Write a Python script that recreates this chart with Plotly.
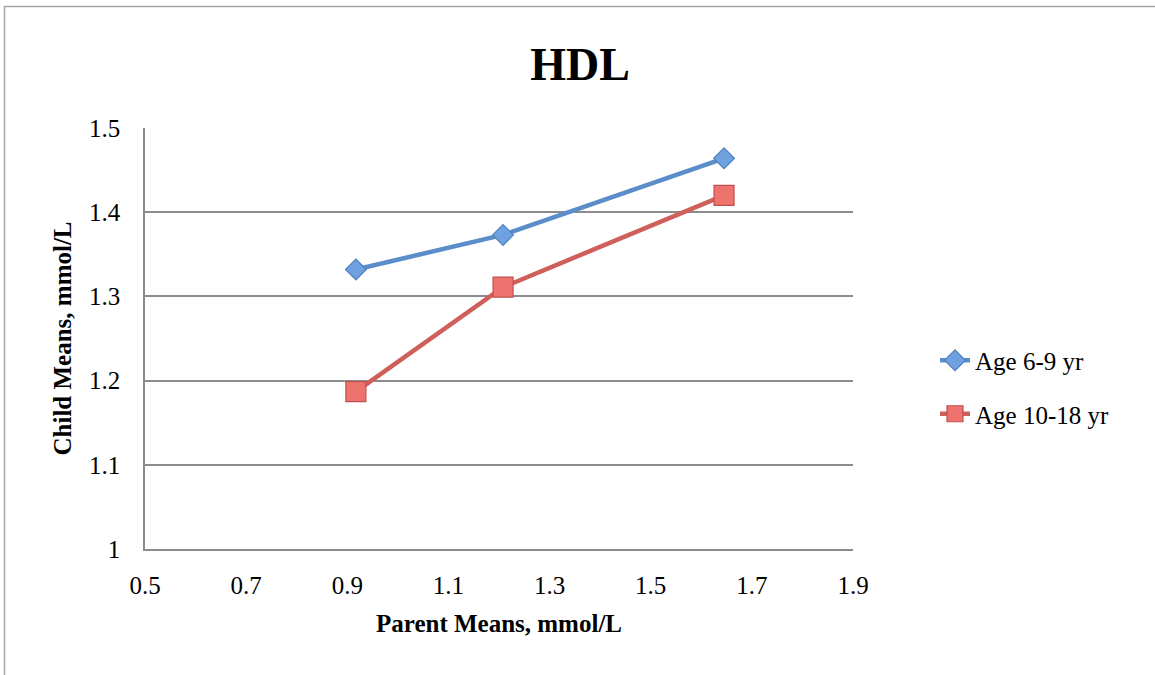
import plotly.graph_objects as go

parent_means = [0.917, 1.208, 1.645]
age_6_9 = [1.332, 1.373, 1.464]
age_10_18 = [1.187, 1.311, 1.420]
series_names = ["Age 6-9 yr", "Age 10-18 yr"]
x_ticks = [0.5, 0.7, 0.9, 1.1, 1.3, 1.5, 1.7, 1.9]
y_ticks = [1, 1.1, 1.2, 1.3, 1.4, 1.5]

FONT = "Liberation Serif"
W, H = 1155, 675
L, R, T, B = 145, 302, 128, 126

fig = go.Figure()
fig.add_trace(go.Scatter(
    x=parent_means, y=age_6_9, name=series_names[0], mode="lines+markers",
    legendgroup="a",
    line=dict(color="#5A8DCA", width=4.5),
    marker=dict(symbol="diamond", size=16, color="#6FA1E0",
                line=dict(color="#4F81BD", width=1.2)),
))
fig.add_trace(go.Scatter(
    x=parent_means, y=age_10_18, name=series_names[1], mode="lines+markers",
    legendgroup="b",
    line=dict(color="#CF5F5A", width=4.5),
    marker=dict(symbol="square", size=20, color="#EE736E",
                line=dict(color="#C0504D", width=1.2)),
))

pw = W - L - R
ph = H - T - B
fig.add_shape(type="rect", xref="paper", yref="paper",
              x0=(4.5 - L) / pw, x1=(W + 20 - L) / pw,
              y0=(H - B - (H + 20)) / ph, y1=(H - B - 6.5) / ph,
              line=dict(color="#A6A6A6", width=1.5), layer="below")

fig.update_layout(
    width=W, height=H,
    margin=dict(l=L, r=R, t=T, b=B),
    paper_bgcolor="white", plot_bgcolor="white",
    font=dict(family=FONT, size=25, color="black"),
    title=dict(text="<b>HDL</b>", x=580 / W, xref="container", xanchor="center",
               y=1 - 64 / H, yanchor="middle",
               font=dict(family=FONT, size=46, color="black")),
    xaxis=dict(range=[0.5, 1.9], tickvals=x_ticks, ticktext=[str(v) for v in x_ticks],
               showgrid=False, zeroline=False, showline=True, linecolor="#8C8C8C",
               linewidth=1.5, ticks="outside", ticklen=13, tickcolor="rgba(0,0,0,0)",
               tickfont=dict(family=FONT, size=25),
               title=dict(text="<b>Parent Means, mmol/L</b>", standoff=17,
                          font=dict(family=FONT, size=25))),
    yaxis=dict(range=[1, 1.5], tickvals=y_ticks, ticktext=[str(v) for v in y_ticks],
               showgrid=True, gridcolor="#8C8C8C", gridwidth=1.5, zeroline=False,
               showline=True, linecolor="#8C8C8C", linewidth=1.5,
               ticks="outside", ticklen=18, tickcolor="rgba(0,0,0,0)",
               tickfont=dict(family=FONT, size=25),
               title=dict(text="<b>Child Means, mmol/L</b>", standoff=10,
                          font=dict(family=FONT, size=25))),
    legend=dict(x=(935 - L) / pw, xanchor="left", y=(H - B - 387) / ph, yanchor="middle",
                font=dict(family=FONT, size=25), tracegroupgap=18,
                bgcolor="rgba(0,0,0,0)"),
    showlegend=True,
)

fig.write_html("out.html", config={"displayModeBar": False},
               post_script="document.body.style.margin='0';")
